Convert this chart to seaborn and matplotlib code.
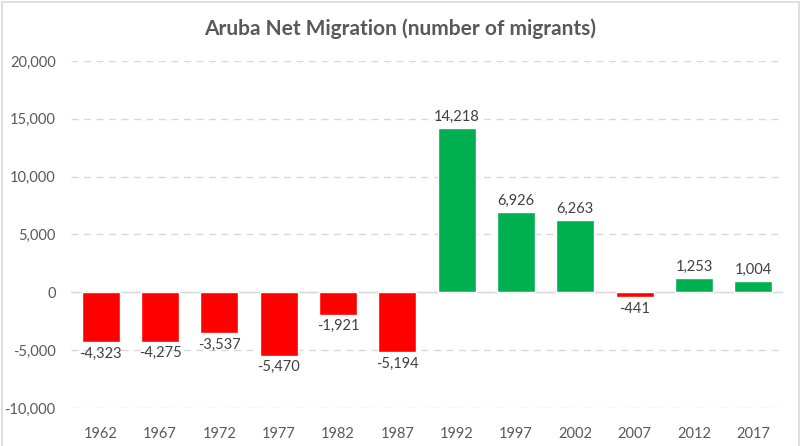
import matplotlib
matplotlib.use("Agg")
import matplotlib.pyplot as plt
import seaborn as sns
from matplotlib.patches import Rectangle

years = ["1962", "1967", "1972", "1977", "1982", "1987",
         "1992", "1997", "2002", "2007", "2012", "2017"]
migrants = [-4323, -4275, -3537, -5470, -1921, -5194,
            14218, 6926, 6263, -441, 1253, 1004]

red = "#FF0000"
green = "#00B050"
bar_colors = [green if v > 0 else red for v in migrants]

sns.set_style("white")
plt.rcParams["font.family"] = ["Lato", "DejaVu Sans"]

fig = plt.figure(figsize=(8, 4.46), dpi=100)
ax = fig.add_axes([71 / 800, 1 - 408 / 446, 712 / 800, 347 / 446])

sns.barplot(x=years, y=migrants, hue=years, palette=bar_colors,
            legend=False, width=0.64, saturation=1, ax=ax)

# data labels
for cont in ax.containers:
    ax.bar_label(cont, fmt="{:,.0f}", padding=3, fontsize=10.5, color="#404040")

ax.set_ylim(-10000, 20000)
ax.set_xlim(-0.5, 11.5)
ax.set_yticks(range(-10000, 20001, 5000))
ax.set_yticklabels([f"{t:,}" for t in range(-10000, 20001, 5000)])
ax.tick_params(axis="y", length=0, pad=11, labelsize=10.5, labelcolor="#595959")
ax.tick_params(axis="x", length=0, pad=14, labelsize=10.5, labelcolor="#595959")

ax.grid(axis="y", linestyle=(0, (5, 4)), color="#D9D9D9", linewidth=1)
ax.set_axisbelow(True)
ax.axhline(0, color="#D9D9D9", linewidth=1, zorder=0.5)
for s in ax.spines.values():
    s.set_visible(False)

fig.text(0.5, 1 - 29 / 446, "Aruba Net Migration (number of migrants)",
         ha="center", va="center", fontsize=15, fontweight="bold", color="#595959")

# chart border
fig.patches.append(Rectangle((2 / 800, -0.05), 797 / 800, 1.05 - 2 / 446,
                             transform=fig.transFigure, fill=False,
                             edgecolor="#D9D9D9", linewidth=1.2))

fig.savefig("out.png", dpi=100)
